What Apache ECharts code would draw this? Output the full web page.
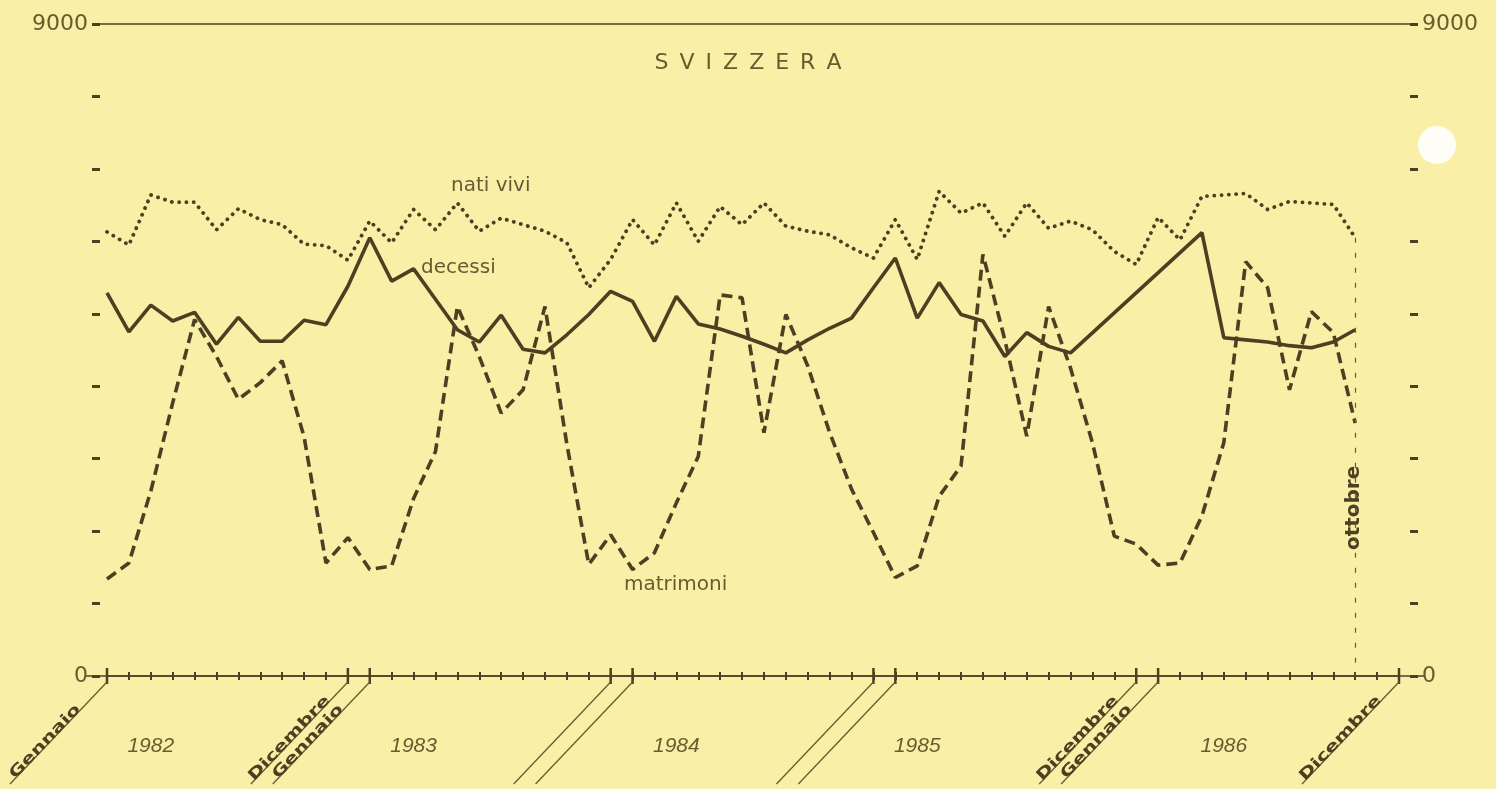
<!DOCTYPE html>
<html>
<head>
<meta charset="utf-8">
<title>Svizzera</title>
<script src="https://cdn.jsdelivr.net/npm/echarts@6/dist/echarts.min.js"></script>
<style>
    html, body { margin: 0; padding: 0; background: #f9efa6; }
    #svizzera-chart { width: 1496px; height: 789px; }
</style>
</head>
<body>
<div id="svizzera-chart"></div>
<script>
    // mesi da gennaio 1982 a dicembre 1986
    const months = [
        "gen 1982", "feb 1982", "mar 1982", "apr 1982", "mag 1982", "giu 1982", "lug 1982", "ago 1982", "set 1982", "ott 1982", "nov 1982", "dic 1982",
        "gen 1983", "feb 1983", "mar 1983", "apr 1983", "mag 1983", "giu 1983", "lug 1983", "ago 1983", "set 1983", "ott 1983", "nov 1983", "dic 1983",
        "gen 1984", "feb 1984", "mar 1984", "apr 1984", "mag 1984", "giu 1984", "lug 1984", "ago 1984", "set 1984", "ott 1984", "nov 1984", "dic 1984",
        "gen 1985", "feb 1985", "mar 1985", "apr 1985", "mag 1985", "giu 1985", "lug 1985", "ago 1985", "set 1985", "ott 1985", "nov 1985", "dic 1985",
        "gen 1986", "feb 1986", "mar 1986", "apr 1986", "mag 1986", "giu 1986", "lug 1986", "ago 1986", "set 1986", "ott 1986", "nov 1986", "dic 1986"
    ];

    const natiVivi = [
        6130, 5950, 6640, 6540, 6540, 6160, 6450, 6300, 6230, 5960, 5940, 5740,
        6280, 5980, 6440, 6160, 6530, 6140, 6320, 6230, 6140, 5980, 5360, 5750,
        6300, 5950, 6530, 6000, 6480, 6230, 6530, 6210, 6140, 6090, 5910, 5770,
        6300, 5750, 6690, 6390, 6530, 6070, 6530, 6180, 6280, 6160, 5860, 5680,
        6330, 6020, 6620, 6640, 6660, 6440, 6550, 6530, 6510, 6050
    ];

    // null = mese senza dato (tratto rettilineo nel grafico)
    const decessi = [
        5290, 4750, 5120, 4900, 5020, 4580, 4950, 4620, 4620, 4910, 4850, 5380,
        6050, 5450, 5620, 5200, 4780, 4610, 4980, 4510, 4460, 4710, 4990, 5310,
        5170, 4620, 5240, 4860, 4790, 4690, 4580, 4460, 4640, 4800, 4940, 5360,
        5770, 4940, 5430, 4990, 4900, 4410, 4740, 4550, 4460, null, null, null,
        null, null, 6120, 4670, 4640, 4610, 4560, 4530, 4610, 4780
    ];

    const matrimoni = [
        1340, 1560, 2550, 3770, 4920, 4410, 3820, 4050, 4350, 3300, 1560, 1910,
        1470, 1520, 2450, 3100, 5100, 4410, 3630, 3950, 5100, 3200, 1540, 1950,
        1470, 1700, 2390, 3030, 5260, 5220, 3360, 4990, 4280, 3360, 2580, 1980,
        1360, 1520, 2480, 2900, 5820, 4640, 3310, 5100, 4250, 3220, 1930, 1820,
        1530, 1560, 2210, 3220, 5720, 5360, 3950, 5030, 4740, 3490
    ];

    const yearLabels = ["1982", "1983", "1984", "1985", "1986"];
    const yearLabelIndex = [2, 14, 26, 37, 51];
    const yTickLabels = [0, 9000];
    const yearBounds = [0, 11, 12, 23, 24, 35, 36, 47, 48, 59];
    const boundLabels = { 0: "Gennaio", 11: "Dicembre", 12: "Gennaio", 47: "Dicembre", 48: "Gennaio", 59: "Dicembre" };
    const lastMonth = 57; // ottobre 1986

    const ink = "#4b4122";
    const inkSoft = "#675c30";
    const paper = "#f9efa6";

    const chart = echarts.init(document.getElementById("svizzera-chart"));

    const yAxisBase = {
        type: "value",
        min: 0,
        max: 9000,
        interval: 1000,
        axisLine: { show: false },
        axisTick: { show: true, length: 8, lineStyle: { color: ink, width: 3 } },
        splitLine: { show: false },
        axisLabel: {
            showMinLabel: true,
            showMaxLabel: true,
            margin: 12,
            color: inkSoft,
            fontFamily: "DejaVu Sans",
            fontSize: 22,
            formatter: (v) => yTickLabels.includes(v) ? String(v) : ""
        }
    };

    chart.setOption({
        backgroundColor: paper,
        animation: false,
        title: {
            text: "S\u2002V\u2002I\u2002Z\u2002Z\u2002E\u2002R\u2002A",
            left: "center",
            top: 47,
            textStyle: { color: inkSoft, fontFamily: "DejaVu Sans", fontWeight: "normal", fontSize: 22 }
        },
        grid: { left: 107, right: 97, top: 24, bottom: 113, outerBoundsMode: "none" },
        xAxis: [
            {
                type: "category",
                data: months,
                boundaryGap: false,
                position: "bottom",
                axisLine: { lineStyle: { color: ink, width: 1.5 } },
                axisTick: { show: true, interval: 0, length: 4, lineStyle: { color: ink, width: 2 } },
                axisLabel: {
                    interval: (i) => yearLabelIndex.includes(i),
                    formatter: (v, i) => {
                        const k = yearLabelIndex.indexOf(i);
                        return k >= 0 ? yearLabels[k] : "";
                    },
                    margin: 60,
                    color: inkSoft,
                    fontFamily: "Liberation Sans",
                    fontStyle: "italic",
                    fontSize: 21
                },
                splitLine: { show: false }
            },
            {
                type: "category",
                data: months,
                boundaryGap: false,
                position: "bottom",
                axisLine: { show: false },
                axisTick: { show: true, inside: true, interval: 0, length: 4, lineStyle: { color: ink, width: 2 } },
                axisLabel: { show: false },
                splitLine: { show: false }
            }
        ],
        yAxis: [
            Object.assign({}, yAxisBase, { position: "left", offset: 7 }),
            Object.assign({}, yAxisBase, { position: "right", offset: 11 })
        ],
        series: [
            {
                name: "nati vivi",
                type: "line",
                data: natiVivi,
                symbol: "none",
                lineStyle: { color: ink, width: 3.8, type: [0.1, 7.2], cap: "round" }
            },
            {
                name: "decessi",
                type: "line",
                data: decessi,
                symbol: "none",
                connectNulls: true,
                lineStyle: { color: ink, width: 3.6 }
            },
            {
                name: "matrimoni",
                type: "line",
                data: matrimoni,
                symbol: "none",
                lineStyle: { color: ink, width: 3.6, type: [11, 6] },
                markLine: {
                    silent: true,
                    symbol: "none",
                    label: { show: false },
                    lineStyle: { color: inkSoft, width: 1.2, type: [5, 10] },
                    data: [[
                        { coord: [months[lastMonth], natiVivi[lastMonth]] },
                        { coord: [months[lastMonth], 0] }
                    ]]
                }
            }
        ]
    });

    // decorazioni: linea dei 9000, barre oblique dei mesi, etichette
    function drawDecorations() {
        const xAt = (i) => chart.convertToPixel({ xAxisIndex: 0 }, months[i]);
        const yAt = (v) => chart.convertToPixel({ yAxisIndex: 0 }, v);
        const base = yAt(0);
        const top = yAt(9000);
        const g = [];

        g.push({ type: "line", shape: { x1: 92, y1: top, x2: 1418, y2: top }, style: { stroke: ink, lineWidth: 1.6 } });
        g.push({ type: "line", shape: { x1: 86, y1: base, x2: 1424, y2: base }, style: { stroke: ink, lineWidth: 1.6 } });

        const dx = -97, dy = 102;
        const len = Math.sqrt(dx * dx + dy * dy);
        const ux = -dx / len, uy = -dy / len;      // verso l'alto lungo la barra
        const ang = Math.atan2(dy, -dx);
        yearBounds.forEach((b) => {
            const x = xAt(b);
            const y0 = base + 6;
            g.push({ type: "line", shape: { x1: x, y1: base - 8, x2: x, y2: base + 8 }, style: { stroke: ink, lineWidth: 2.5 } });
            g.push({ type: "line", shape: { x1: x, y1: y0, x2: x + dx, y2: y0 + dy }, style: { stroke: inkSoft, lineWidth: 1.3 } });
            if (boundLabels[b]) {
                const along = boundLabels[b] === "Gennaio" ? 7 : 4;
                const down = 4;
                g.push({
                    type: "text",
                    x: x + dx + ux * along - uy * down,
                    y: y0 + dy + uy * along + ux * down,
                    rotation: ang,
                    scaleX: 1.38,
                    style: {
                        text: boundLabels[b],
                        fill: ink,
                        fontFamily: "DejaVu Sans",
                        fontWeight: "bold",
                        fontSize: 15,
                        align: "left",
                        verticalAlign: "bottom"
                    }
                });
            }
        });

        g.push({
            type: "text",
            x: xAt(lastMonth) - 1,
            y: yAt(2320),
            rotation: Math.PI / 2,
            style: { text: "ottobre", fill: ink, fontFamily: "DejaVu Sans", fontWeight: "bold", fontSize: 20, align: "center", verticalAlign: "middle" }
        });

        const seriesText = { fill: inkSoft, fontFamily: "DejaVu Sans", fontSize: 20, verticalAlign: "middle" };
        g.push({ type: "text", x: 451, y: 186, style: Object.assign({ text: "nati vivi" }, seriesText) });
        g.push({ type: "text", x: 421, y: 268, style: Object.assign({ text: "decessi" }, seriesText) });
        g.push({ type: "text", x: 624, y: 585, style: Object.assign({ text: "matrimoni" }, seriesText) });

        // foro della perforatrice
        g.push({ type: "circle", shape: { cx: 1437, cy: 145, r: 19 }, style: { fill: "#fffef6" } });

        chart.setOption({ graphic: g });
    }

    drawDecorations();
</script>
</body>
</html>
